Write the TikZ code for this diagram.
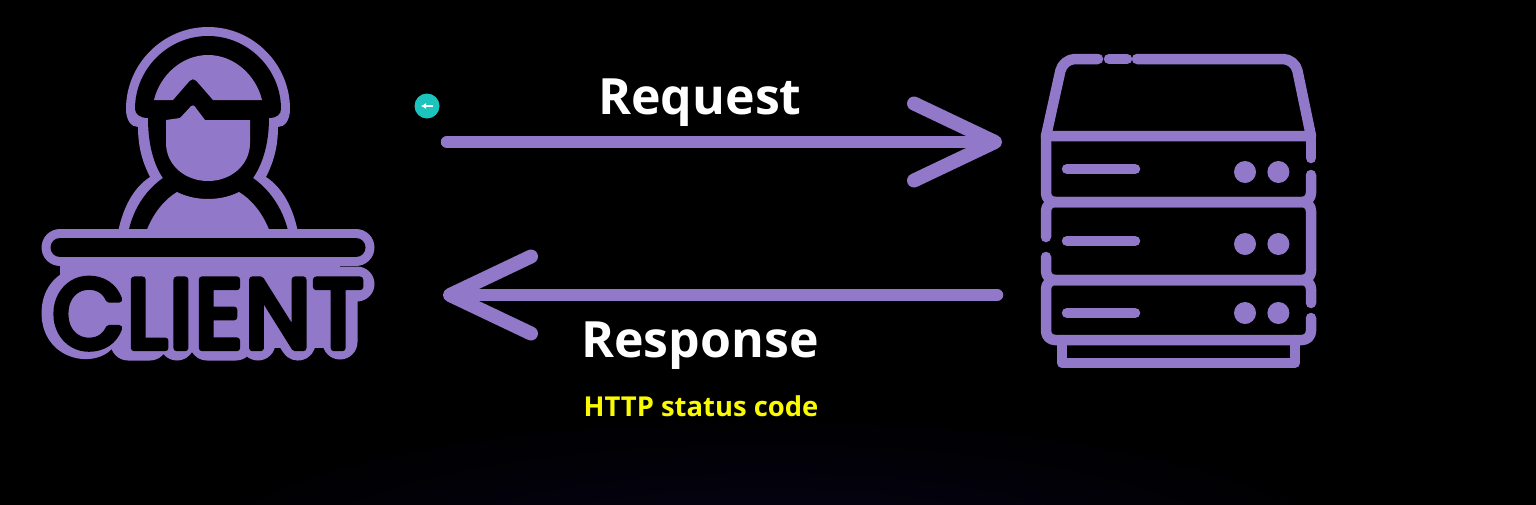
\documentclass[tikz,border=0pt]{standalone}
\usepackage{fontspec}
\setmainfont{Open Sans}
\newfontfamily\clientfont[FakeBold=6.5,FakeStretch=0.95,LetterSpace=2.5]{Poppins}
\usepackage{xcolor}
\definecolor{iconpurple}{RGB}{145,120,200}
\definecolor{cursorteal}{RGB}{27,197,189}
\definecolor{statusyellow}{RGB}{250,250,0}
\definecolor{floorglow}{RGB}{6,3,24}
\usetikzlibrary{arrows.meta,positioning,calc}
\tikzset{
    icon/.style={iconpurple, line width=10.5pt, line cap=round, line join=round},
    arrowline/.style={iconpurple, line width=12.5pt, line cap=round},
    biglabel/.style={text=white, font=\fontsize{50}{50}\selectfont\bfseries, inner sep=0pt},
    dot/.style={fill=iconpurple, draw=none, circle, minimum size=22pt, inner sep=0pt},
}

\begin{document}
\begin{tikzpicture}[x=1pt,y=-1pt]
    % Background
    \useasboundingbox (0,0) rectangle (1536,504);
    \fill[black] (-3,-3) rectangle (1539,507);
    \begin{scope}
        \clip (-3,-3) rectangle (1539,507);
        \shade[inner color=floorglow, outer color=black] (768,560) ellipse (620pt and 150pt);
    \end{scope}

    % Client icon: hood and shoulders
    \fill[iconpurple] (126,109) .. controls (126,64) and (163,27) .. (208,27) .. controls (253,27) and (290,64) .. (290,109)
        .. controls (290,120) and (285,127) .. (278,127) .. controls (278,150) and (272,165) .. (266,177)
        .. controls (283,188) and (293,208) .. (298,232) -- (118,232) .. controls (123,208) and (133,188) .. (150,177)
        .. controls (144,165) and (138,150) .. (138,127) .. controls (131,127) and (126,120) .. (126,109) -- cycle;
    \fill[black] (135,109) .. controls (135,69) and (168,36) .. (208,36) .. controls (248,36) and (281,69) .. (281,109)
        .. controls (281,114) and (277,118) .. (269,118) .. controls (269,145) and (262,165) .. (253,178)
        .. controls (270,190) and (285,210) .. (290,240) -- (127,240) .. controls (131,210) and (146,190) .. (163,178)
        .. controls (154,165) and (148,145) .. (148,118) .. controls (140,118) and (135,114) .. (135,109) -- cycle;

    % Cap, face and body
    \fill[iconpurple] (154,100) .. controls (160,75) and (182,55) .. (208,55) .. controls (234,55) and (256,75) .. (262,100)
        -- (213,100) [rounded corners=5pt] -- (193,77) [sharp corners] -- (173,100) -- cycle;
    \fill[iconpurple] (166,120) -- (180,118) [rounded corners=3pt] -- (193,104) [sharp corners] -- (205,120) -- (250,120) -- (250,143)
        .. controls (250,165) and (231,181) .. (208,181) .. controls (185,181) and (166,165) .. (166,143) -- cycle;
    \fill[iconpurple] (144,238) .. controls (150,218) and (162,201) .. (177,192) .. controls (187,197) and (198,199) .. (208,199)
        .. controls (218,199) and (229,197) .. (239,192) .. controls (254,201) and (266,218) .. (272,238) -- cycle;

    % Bar under the figure
    \draw[iconpurple, line width=37pt, line cap=round] (60,247.5) -- (356,247.5);
    \draw[black, line width=19pt, line cap=round] (60,247.5) -- (356,247.5);

    % Backing of the word
    \fill[iconpurple] (60,262) rectangle (340,348);
    \draw[iconpurple, line width=35pt, line cap=round, line join=round]
        (98,285) .. controls (88,280) and (59,284) .. (59,313) .. controls (59,342) and (88,346) .. (98,338)
        (128,283) -- (128,343) -- (150,343)
        (177,283) -- (177,343)
        (236,283) -- (207,283) -- (207,343) -- (236,343)
        (258,343) -- (258,283) -- (298,343) -- (298,283)
        (325,284) -- (357,284) (340,284) -- (340,342);
    \node[text=black, font=\clientfont\fontsize{98}{98}\selectfont, inner sep=0pt, line join=round, anchor=base] (client) at (208,348) {CLIENT};

    % Cursor badge
    \node[fill=cursorteal, circle, minimum size=25pt, inner sep=0pt] (cursor) at (427,106) {};
    \coordinate (cursorR) at (433,106);
    \coordinate (cursorL) at (421,106);
    \draw[white, line width=1.2pt, -{Latex[length=5pt,width=6pt]}] (cursorR) -- (cursorL);

    % Arrows
    \coordinate (reqA) at (447,142);
    \coordinate (reqB) at (1002,142);
    \coordinate (resA) at (997,295);
    \coordinate (resB) at (443,295);
    \draw[arrowline, -{Straight Barb[length=81pt,width=77pt,round,line width=14pt]}] (reqA) -- (reqB);
    \draw[arrowline, -{Straight Barb[length=81pt,width=77pt,round,line width=14pt]}] (resA) -- (resB);

    % Labels
    \node[biglabel] (request) at (700,103) {Request};
    \node[biglabel] (response) at (700,346) {Response};
    \node[text=statusyellow, font=\fontsize{27.4}{27.4}\selectfont\bfseries, inner sep=0pt] (status) at (701,406) {HTTP status code};

    % Server: roof
    \draw[icon] (1098,59) [rounded corners=12pt] -- (1063,59) [sharp corners] -- (1046,136) -- (1311,136) [rounded corners=12pt] -- (1295,59) [sharp corners] -- (1137,59);
    \draw[icon] (1109,59) -- (1127,59);
    % Server: three stacked boxes, each with one gap at the side
    \draw[icon, rounded corners=9pt] (1311,175) -- (1311,202) -- (1046,202) -- (1046,136);
    \draw[icon] (1311,136) -- (1311,158);
    \draw[icon, rounded corners=9pt] (1046,237) -- (1046,202) -- (1311,202) -- (1311,280) -- (1046,280) -- (1046,257);
    \draw[icon, rounded corners=9pt] (1311,303) -- (1311,280) -- (1046,280) -- (1046,340) -- (1311,340) -- (1311,318);
    \draw[icon] (1062,340) -- (1062,363) -- (1295,363) -- (1295,340);

    % Server: status lines and lamps
    \foreach \rowy in {169,241,313}{
        \draw[icon] (1067,\rowy) -- (1135,\rowy);
    }
    \node[dot] (lampa) at (1245,172) {};
    \node[dot, right=11pt of lampa] (lampb) {};
    \node[dot] (lampc) at (1245,244) {};
    \node[dot, right=11pt of lampc] (lampd) {};
    \node[dot] (lampe) at (1245,313) {};
    \node[dot, right=11pt of lampe] (lampf) {};
\end{tikzpicture}
\end{document}
